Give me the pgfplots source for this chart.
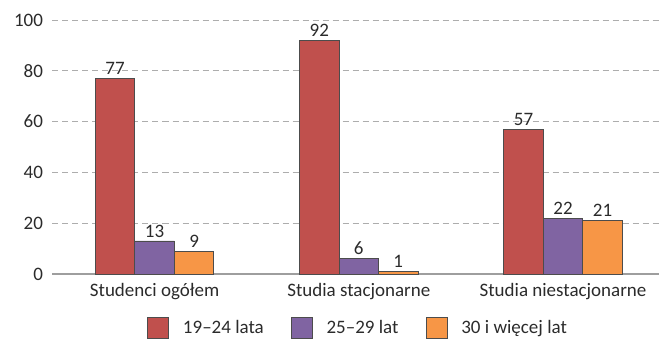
\documentclass[border=0pt]{standalone}
\usepackage{fontspec}
\setmainfont{Carlito}
\usepackage{pgfplots}
\pgfplotsset{compat=1.18}
\definecolor{cRed}{HTML}{C0504D}
\definecolor{cPur}{HTML}{8064A2}
\definecolor{cOra}{HTML}{F79646}
\definecolor{txt}{HTML}{2B2B2B}
\newcommand{\fs}{\fontsize{19}{22}\selectfont}
\pgfplotsset{
  sqleg/.style={legend image code/.code={%
    \filldraw[fill=#1, draw=black!70, line width=0.8pt] (0pt,-10.5pt) rectangle (21pt,10.5pt);}},
}
\begin{document}
\begin{tikzpicture}
\begin{axis}[
  scale only axis,
  width=606.5pt, height=254pt,
  ymin=0, ymax=100,
  xmin=-0.5, xmax=2.47,
  ytick={0,20,40,60,80,100},
  xtick={0,1,2},
  xticklabels={Studenci ogółem, Studia stacjonarne, Studia niestacjonarne},
  /pgf/number format/assume math mode=true,
  tick label style={font=\fs, text=txt},
  yticklabel style={xshift=-6pt},
  xticklabel style={yshift=-2pt},
  tick style={draw=none},
  ymajorgrids,
  major grid style={draw=black!32, line width=1pt, dash pattern=on 6pt off 4pt},
  axis x line*=bottom,
  axis y line*=left,
  y axis line style={draw=none},
  x axis line style={draw=black!38, line width=1.3pt, -},
  ybar=0pt,
  bar width=39.5pt,
  nodes near coords,
  every node near coord/.append style={font=\fs, text=txt},
  legend columns=3,
  legend style={
    at={(rel axis cs:0.1558,-0.2126)}, anchor=west,
    draw=none, fill=none, inner sep=0pt, font=\fs, text=txt,
    nodes={inner sep=0pt},
    /tikz/every odd column/.append style={column sep=14pt},
    /tikz/every even column/.append style={column sep=27pt},
  },
]
\addplot[fill=cRed, draw=black!70, line width=0.8pt, sqleg=cRed] coordinates {(0,77) (1,92) (2,57)};
\addplot[fill=cPur, draw=black!70, line width=0.8pt, sqleg=cPur] coordinates {(0,13) (1,6) (2,22)};
\addplot[fill=cOra, draw=black!70, line width=0.8pt, sqleg=cOra] coordinates {(0,9) (1,1) (2,21)};
\legend{19–24 lata, 25–29 lat, 30 i więcej lat}
\coordinate (ll) at (rel axis cs:0,0);
\coordinate (ur) at (rel axis cs:1,1);
\end{axis}
\pgfresetboundingbox
\path[use as bounding box] ([xshift=-52.5pt,yshift=-64pt]ll) rectangle ([yshift=20pt]ur);
\end{tikzpicture}
\end{document}
